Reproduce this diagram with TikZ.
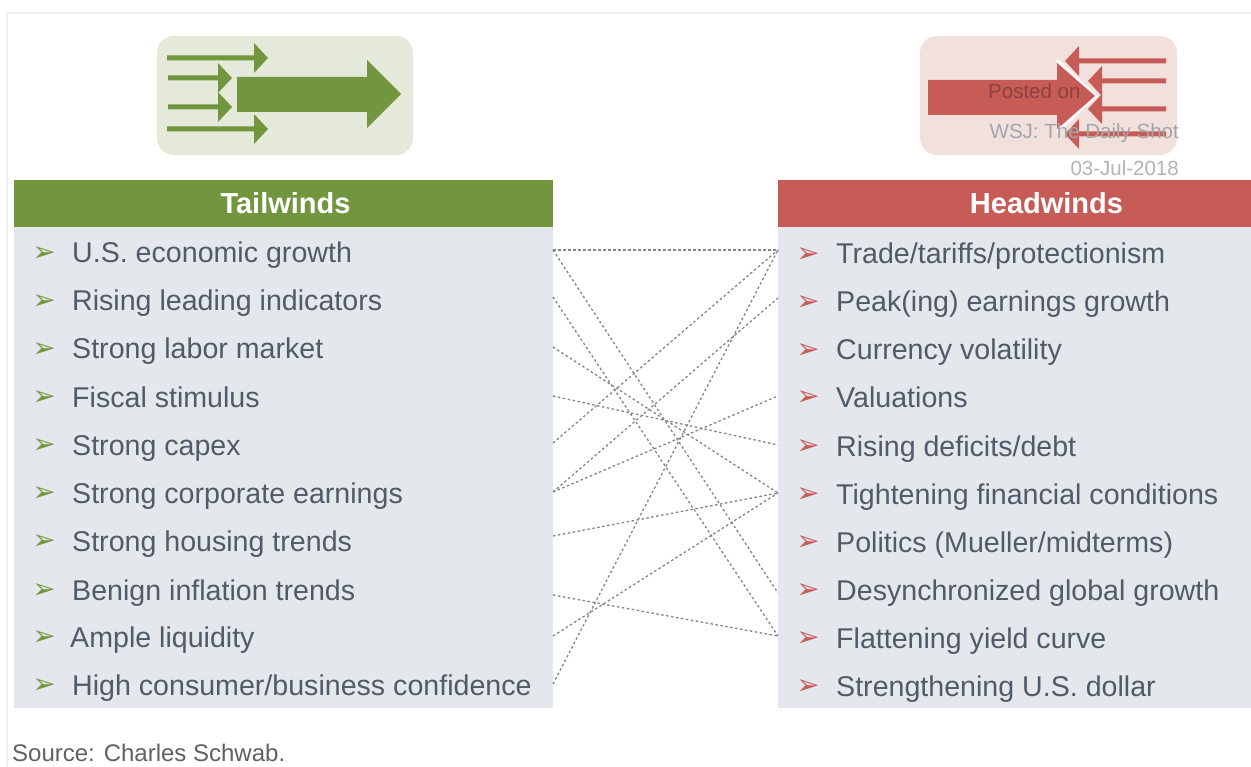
\documentclass[tikz,border=0pt]{standalone}
\usepackage{fontspec}
\setmainfont{Liberation Sans}
\newfontfamily\symfont{DejaVu Sans}
\definecolor{gdark}{HTML}{72963E}
\definecolor{gpale}{HTML}{E4E9DA}
\definecolor{rdark}{HTML}{C75C57}
\definecolor{rpale}{HTML}{F2E0DD}
\definecolor{panel}{HTML}{E4E8ED}
\definecolor{itemtxt}{HTML}{505B69}
\definecolor{wm}{HTML}{A2A6AA}
\tikzset{
  x=1pt,y=-1pt,
  headtxt/.style={text=white,font=\fontsize{29}{32}\selectfont\bfseries,inner sep=0pt,anchor=base},
  itemstyle/.style={text=itemtxt,font=\fontsize{28.6}{32}\selectfont,anchor=base west,inner sep=0pt},
  bull/.style={font=\fontsize{28}{30}\selectfont\symfont,anchor=center,inner sep=0pt},
  link/.style={draw=black!48,line width=1.3pt,dash pattern=on 2.5pt off 2.5pt},
  wmark/.style={text=wm,font=\fontsize{20.5}{24}\selectfont,inner sep=0pt,anchor=base east},
}
\begin{document}
\begin{tikzpicture}
\useasboundingbox (0,0) rectangle (1251,767);
\fill[white] (0,0) rectangle (1251,767);
\draw[black!6,line width=1.5pt] (7,767) -- (7,13) -- (1251,13);
% icons
\fill[gpale,rounded corners=17pt] (157,36) rectangle (413,155);
\fill[rpale,rounded corners=17pt] (920,36) rectangle (1177,155);
% green arrows
\foreach \yy/\xa/\xb in {58/167/268,78/168/232,107/168/232,129/167/268}{
  \fill[gdark] (\xa,\yy-2.5) -- (\xb-14,\yy-2.5) -- (\xb-14,\yy-15) -- (\xb,\yy) -- (\xb-14,\yy+15) -- (\xb-14,\yy+2.5) -- (\xa,\yy+2.5) -- cycle;
}
\fill[gdark] (237,77) -- (367,77) -- (367,60) -- (401,94) -- (367,128) -- (367,112) -- (237,112) -- cycle;
% red arrows
\foreach \yy/\xa/\xb in {61/1065/1166,81/1088/1166,109/1088/1166,134/1065/1166}{
  \fill[rdark] (\xa,\yy) -- (\xa+14,\yy-15) -- (\xa+14,\yy-2.5) -- (\xb,\yy-2.5) -- (\xb,\yy+2.5) -- (\xa+14,\yy+2.5) -- (\xa+14,\yy+15) -- cycle;
}
\draw[white!85!rpale,line width=3pt] (1057,60) -- (1096,96) -- (1057,132);
\fill[rdark] (928,80) -- (1057,80) -- (1057,63) -- (1095,96) -- (1057,129) -- (1057,115) -- (928,115) -- cycle;
% panels
\fill[panel] (14,227) rectangle (553,708);
\fill[panel] (778,227) rectangle (1251,708);
\fill[gdark] (14,180) rectangle (553,227);
\fill[rdark] (778,180) rectangle (1251,227);
\node[headtxt] (tw) at (285.5,214) {Tailwinds};
\node[headtxt] (hw) at (1046.5,214) {Headwinds};
% items
\foreach \nm/\yy/\tx/\txt in {
 l1/263/72/{U.S. economic growth},
 l2/311/72/{Rising leading indicators},
 l3/359/72/{Strong labor market},
 l4/407/72/{Fiscal stimulus},
 l5/455/72/{Strong capex},
 l6/503/72/{Strong corporate earnings},
 l7/551/72/{Strong housing trends},
 l8/600/72/{Benign inflation trends},
 l9/647/70/{Ample liquidity},
 l10/695/72/{High consumer/business confidence}}{
  \node[bull,text=gdark] at (44,\yy-9) {➢};
  \node[itemstyle] (\nm) at (\tx,\yy) {\txt};
}
\foreach \nm/\yy/\txt in {
 r1/264/{Trade/tariffs/protectionism},
 r2/312/{Peak(ing) earnings growth},
 r3/360/{Currency volatility},
 r4/407/{Valuations},
 r5/456/{Rising deficits/debt},
 r6/504/{Tightening financial conditions},
 r7/552/{Politics (Mueller/midterms)},
 r8/600/{Desynchronized global growth},
 r9/648/{Flattening yield curve},
 r10/696/{Strengthening U.S. dollar}}{
  \node[bull,text=rdark] at (808,\yy-9) {➢};
  \node[itemstyle] (\nm) at (836,\yy) {\txt};
}
% link anchors
\foreach \nm/\yy in {a1/250,a2/297,a3/347,a4/396,a5/443,a6/492,a7/536,a8/595,a9/636,a10/684}{
  \coordinate (\nm) at (553,\yy);
}
\foreach \nm/\yy in {b1/250,b2/298,b4/396,b5/445,b6/493,b8/593,b9/636}{
  \coordinate (\nm) at (778,\yy);
}
\foreach \p/\q in {a1/b1,a1/b8,a2/b9,a3/b6,a4/b5,a5/b1,a6/b2,a6/b4,a7/b6,a8/b9,a9/b6,a10/b1}{
  \draw[link] (\p) -- (\q);
}
% watermark
\node[wmark,text=black!30!rdark,anchor=base west] (wm1) at (988,99) {Posted on};
\node[wmark] (wm2) at (1179,139) {WSJ: The Daily Shot};
\node[wmark,text=wm!85!white] (wm3) at (1179,176) {03-Jul-2018};
\node[text=black!62,font=\fontsize{24}{26}\selectfont,anchor=base west,inner sep=0pt] (src) at (12,761) {Source: Charles Schwab.};
\end{tikzpicture}
\end{document}
